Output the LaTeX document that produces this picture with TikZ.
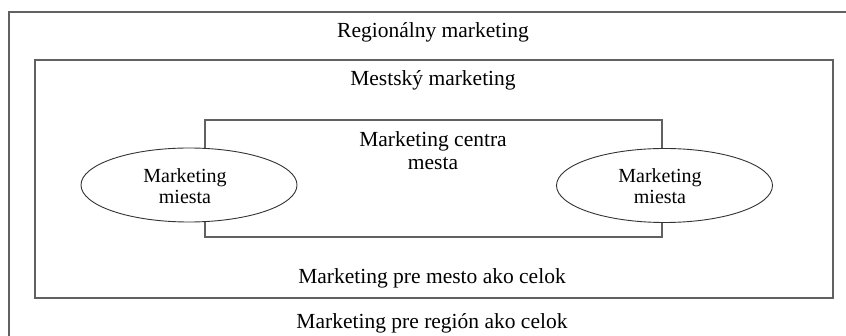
\documentclass[tikz,border=0pt]{standalone}
\usepackage{fontspec}
\setmainfont{Liberation Serif}
\usetikzlibrary{shapes.geometric}
\begin{document}
\begin{tikzpicture}[x=1pt,y=-1pt,
  frame/.style={draw=black!62,line width=1.4pt},
  spot/.style={ellipse,draw=black!80,line width=0.9pt,fill=white,
    minimum width=216pt,minimum height=74pt,inner sep=0pt},
  spottext/.style={anchor=base,inner sep=0pt,font=\fontsize{20}{21}\selectfont},
  lbl/.style={anchor=base,inner sep=0pt,font=\fontsize{21.5}{23.3}\selectfont}]
  \useasboundingbox (0,0) rectangle (846,336);
  \clip (0,0) rectangle (846,336);
  \fill[white] (0,0) rectangle (846,336);
  % nested areas: region, city, city centre
  \draw[frame] (9,12) rectangle (852,345);
  \draw[frame] (35,60) rectangle (833,298);
  \draw[frame] (205,120) rectangle (662,237);
  % individual places
  \node[spot] (left) at (189,185) {};
  \node[spot] (right) at (664.5,185.5) {};
  \node[spottext] (left1) at (185,183) {Marketing};
  \node[spottext] (left2) at (185,204) {miesta};
  \node[spottext] (right1) at (660,183) {Marketing};
  \node[spottext] (right2) at (660,204) {miesta};
  % labels
  \node[lbl] (reg) at (433,38) {Regionálny marketing};
  \node[lbl] (city) at (433,86) {Mestský marketing};
  \node[lbl] (centre1) at (433,146.5) {Marketing centra};
  \node[lbl] (centre2) at (433,170) {mesta};
  \node[lbl] (whole) at (432,284) {Marketing pre mesto ako celok};
  \node[lbl] (regwhole) at (432,329) {Marketing pre región ako celok};
\end{tikzpicture}
\end{document}
